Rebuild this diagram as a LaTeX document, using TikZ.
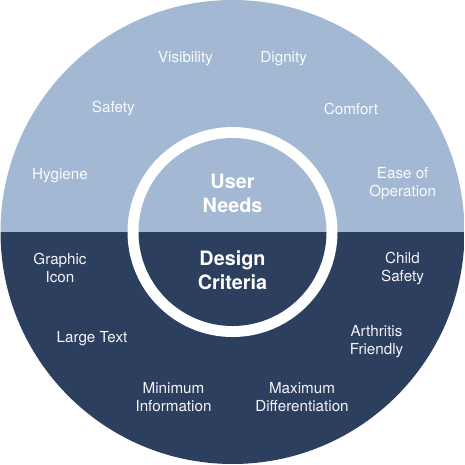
\documentclass[tikz,border=0pt]{standalone}
\usepackage{fontspec}
\setmainfont{TeX Gyre Heros}
\definecolor{lightpart}{HTML}{A3B8D3}
\definecolor{darkpart}{HTML}{2D3F5F}
\begin{document}
\begin{tikzpicture}[x=1pt,y=-1pt,
  lab/.style={text=white!94!lightpart, align=center, inner sep=0pt,
    font=\fontsize{15.2}{18}\selectfont},
  dlab/.style={text=white!94!darkpart, align=center, inner sep=0pt,
    font=\fontsize{15.2}{18}\selectfont},
  core/.style={text=white, align=center, inner sep=0pt,
    font=\fontsize{19.8}{24}\selectfont\bfseries}]
\useasboundingbox (0,0) rectangle (465,464);
\coordinate (c) at (232.5,232);
% outer disc
\begin{scope}
  \clip (c) circle (232);
  \fill[lightpart] (0,0) rectangle (465,232);
  \fill[darkpart] (0,232) rectangle (465,464);
\end{scope}
% white ring
\fill[white] (c) circle (105);
\begin{scope}
  \clip (c) circle (94);
  \fill[lightpart] (0,0) rectangle (465,232);
  \fill[darkpart] (0,232) rectangle (465,464);
\end{scope}
% center labels
\node[core] (un) at (232.5,193.5) {User\\Needs};
\node[core] (dc) at (232.5,270.5) {Design\\Criteria};
% user needs
\node[lab] (vis) at (185.5,59) {Visibility};
\node[lab] (dig) at (283.7,59) {Dignity};
\node[lab] (saf) at (113.3,108.5) {Safety};
\node[lab] (com) at (351,108.5) {Comfort};
\node[lab] (hyg) at (60,176) {Hygiene};
\node[lab] (eas) at (402.7,184) {Ease of\\Operation};
% design criteria
\node[dlab] (gra) at (60,268) {Graphic\\Icon};
\node[dlab] (chi) at (402.5,268) {Child\\Safety};
\node[dlab] (lar) at (92,339) {Large Text};
\node[dlab] (art) at (376.5,341.5) {Arthritis\\Friendly};
\node[dlab] (min) at (173.5,397.5) {Minimum\\Information};
\node[dlab] (max) at (302,397.5) {Maximum\\Differentiation};
\end{tikzpicture}
\end{document}
